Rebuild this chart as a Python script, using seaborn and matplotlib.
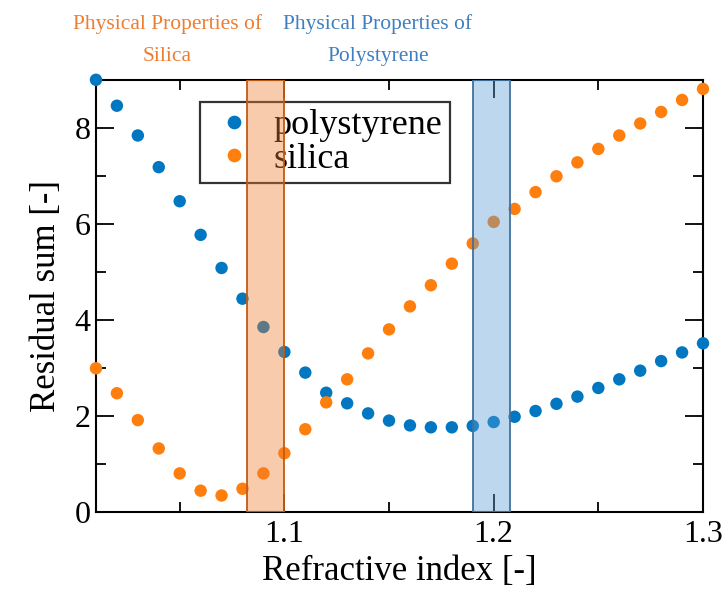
import numpy as np
import pandas as pd
import seaborn as sns
from matplotlib import pyplot as plt
from matplotlib import ticker

refractive_index = np.round(np.arange(1.01, 1.305, 0.01), 2)
polystyrene = [9.00, 8.46, 7.84, 7.18, 6.47, 5.77, 5.08, 4.44, 3.85, 3.33,
               2.90, 2.48, 2.26, 2.05, 1.90, 1.80, 1.76, 1.76, 1.79, 1.87,
               1.98, 2.10, 2.25, 2.40, 2.58, 2.76, 2.94, 3.14, 3.32, 3.51]
silica = [2.99, 2.47, 1.91, 1.32, 0.80, 0.44, 0.34, 0.48, 0.80, 1.22,
          1.72, 2.28, 2.76, 3.30, 3.80, 4.28, 4.72, 5.17, 5.59, 6.04,
          6.31, 6.66, 6.99, 7.28, 7.56, 7.84, 8.09, 8.33, 8.58, 8.81]
silica_range = (1.082, 1.100)
polystyrene_range = (1.190, 1.208)

df = pd.DataFrame({
    "n": np.concatenate([refractive_index, refractive_index]),
    "residual": polystyrene + silica,
    "material": ["polystyrene"] * len(polystyrene) + ["silica"] * len(silica),
})

sns.set_style("ticks", rc={"text.color": "black", "axes.labelcolor": "black",
                           "xtick.color": "black", "ytick.color": "black",
                           "axes.edgecolor": "black"})
plt.rcParams["font.family"] = ["Liberation Serif", "DejaVu Serif"]

blue = "#0077C0"
orange = "#FF7F0E"

fig = plt.figure(figsize=(7.27, 6.0), dpi=100)
ax = fig.add_axes([0.132, 0.147, 0.835, 0.72])

sns.scatterplot(data=df, x="n", y="residual", hue="material",
                palette={"polystyrene": blue, "silica": orange},
                s=80, linewidth=0, ax=ax, clip_on=False, zorder=3)

# shaded ranges sit on top of the points, so the points inside look tinted
ax.axvspan(*silica_range, facecolor="#ED7D31", alpha=0.4, zorder=4, lw=0)
ax.axvspan(*silica_range, facecolor="none", edgecolor="#C55A11", lw=1.3, zorder=4)
ax.axvspan(*polystyrene_range, facecolor="#5B9BD5", alpha=0.4, zorder=4, lw=0)
ax.axvspan(*polystyrene_range, facecolor="none", edgecolor="#41719C", lw=1.3, zorder=4)

ax.set_xlim(1.01, 1.30)
ax.set_ylim(0, 9)
ax.xaxis.set_major_locator(ticker.FixedLocator([1.1, 1.2, 1.3]))
ax.xaxis.set_minor_locator(ticker.FixedLocator([1.05, 1.15, 1.25]))
ax.yaxis.set_major_locator(ticker.MultipleLocator(2))
ax.yaxis.set_minor_locator(ticker.MultipleLocator(1))
ax.xaxis.set_major_formatter(ticker.StrMethodFormatter("{x:.1f}"))
ax.tick_params(which="both", direction="in", top=True, right=True,
               labelsize=23, width=1.3, color="black")
ax.tick_params(axis="y", pad=4)
ax.tick_params(axis="x", pad=6)
ax.tick_params(which="major", length=13)
ax.tick_params(which="minor", length=7)
for sp in ax.spines.values():
    sp.set_linewidth(1.5)
    sp.set_visible(True)

ax.set_xlabel("Refractive index [-]", fontsize=25, labelpad=4)
ax.set_ylabel("Residual sum [-]", fontsize=25, labelpad=8)

leg = ax.legend(loc="upper left", bbox_to_anchor=(0.171, 0.949), borderaxespad=0,
                fontsize=26, frameon=True, fancybox=False, edgecolor="black",
                handletextpad=0.35, labelspacing=0.0, borderpad=0.2,
                markerscale=1.1, handlelength=1.5)
leg.get_frame().set_linewidth(1.6)
leg.set_zorder(2)

fig.text(0.23, 0.976, "Physical Properties of\nSilica", color="#ED7D31",
         fontsize=15.5, ha="center", va="top", linespacing=1.9)
fig.text(0.52, 0.976, "Physical Properties of\nPolystyrene", color="#3F7FBF",
         fontsize=15.5, ha="center", va="top", linespacing=1.9)

fig.savefig("out.png", dpi=100)
